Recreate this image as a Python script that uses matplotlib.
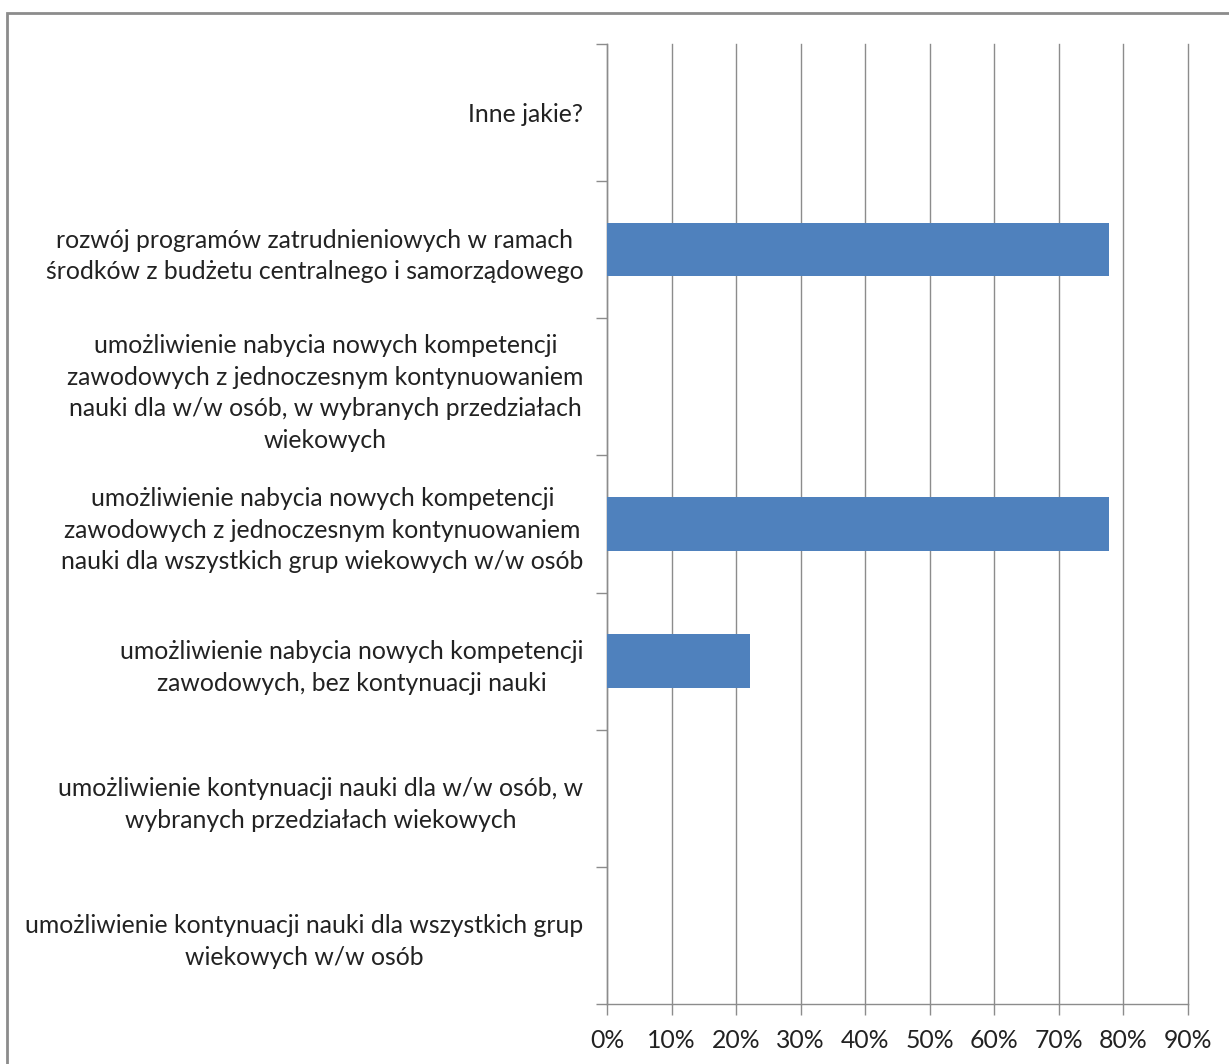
import matplotlib
matplotlib.use("Agg")
import matplotlib.pyplot as plt
from matplotlib.patches import Rectangle
import numpy as np

categories = [
    "umożliwienie kontynuacji nauki dla wszystkich grup\nwiekowych w/w osób",
    "umożliwienie kontynuacji nauki dla w/w osób, w\nwybranych przedziałach wiekowych",
    "umożliwienie nabycia nowych kompetencji\nzawodowych, bez kontynuacji nauki",
    "umożliwienie nabycia nowych kompetencji\nzawodowych z jednoczesnym kontynuowaniem\nnauki dla wszystkich grup wiekowych w/w osób",
    "umożliwienie nabycia nowych kompetencji\nzawodowych z jednoczesnym kontynuowaniem\nnauki dla w/w osób, w wybranych przedziałach\nwiekowych",
    "rozwój programów zatrudnieniowych w ramach\nśrodków z budżetu centralnego i samorządowego",
    "Inne jakie?",
]
values = [0.0, 0.0, 22.22, 77.78, 0.0, 77.78, 0.0]
xticks = [0, 10, 20, 30, 40, 50, 60, 70, 80, 90]

plt.rcParams['font.family'] = ['Lato', 'DejaVu Sans']

W, H = 1229, 1064
fig = plt.figure(figsize=(W/100, H/100), dpi=100)
fig.patches.append(Rectangle((7/W, -0.1), 1.2, (H-13)/H + 0.1, transform=fig.transFigure,
                             fill=False, edgecolor='#8c8c8c', linewidth=2, zorder=0))

ax = fig.add_axes([607/W, 60/H, (1188-607)/W, 960/H])
y = np.arange(len(categories))
ax.barh(y, values, height=0.39, color='#4f81bd', linewidth=0, zorder=3)
ax.set_xlim(0, 90)
ax.set_ylim(-0.5, len(categories)-0.5)
ax.set_xticks(xticks)
ax.set_xticklabels([f"{v}%" for v in xticks], fontsize=17.8, color='#222222')
ax.set_yticks(y)
ax.set_yticklabels(categories, fontsize=17.8, color='#222222',
                   multialignment='center', linespacing=1.45)
ax.set_yticks(np.arange(-0.5, len(categories)), minor=True)
ax.tick_params(axis='y', which='major', length=0, pad=17)
ax.tick_params(axis='y', which='minor', length=8, color='#8c8c8c', width=1)
ax.tick_params(axis='x', length=8, color='#8c8c8c', width=1, pad=10)
ax.grid(axis='x', color='#8c8c8c', linewidth=1, zorder=0, clip_on=False)
ax.set_axisbelow(True)
for s in ['top', 'right']:
    ax.spines[s].set_visible(False)
for s in ['left', 'bottom']:
    ax.spines[s].set_color('#8c8c8c')
    ax.spines[s].set_linewidth(1)

fig.savefig("out.png", dpi=100)
